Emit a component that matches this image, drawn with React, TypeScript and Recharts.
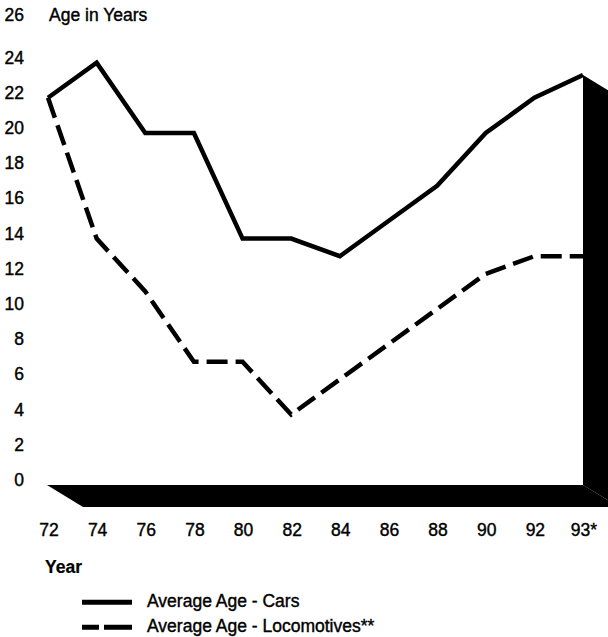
import React from 'react';
import { LineChart, Line, XAxis, YAxis, ReferenceArea, Legend, Customized } from 'recharts';

const years = ['72', '74', '76', '78', '80', '82', '84', '86', '88', '90', '92', '93*'];
const carsAge = [22, 24, 20, 20, 14, 14, 13, 15, 17, 20, 22, 23.3];
const locoAge = [22, 14, 11, 7, 7, 4, 6, 8, 10, 12, 13, 13];
const yTicks = [0, 2, 4, 6, 8, 10, 12, 14, 16, 18, 20, 22, 24, 26];
const seriesNames = { cars: 'Average Age - Cars', loco: 'Average Age - Locomotives**' };
const yTitle = 'Age in Years';
const xTitle = 'Year';

const data = years.map((year, i) => ({ year, cars: carsAge[i], loco: locoAge[i] }));

const FONT = '"Liberation Sans", Arial, Helvetica, sans-serif';
const FS = 17.5;
const TEXT_STROKE = 0.4;
const DEPTH_X = 36;
const DEPTH_Y = 22;
const LINE_DASH = '21 8';
const LEGEND_DASH: Record<string, string | undefined> = { cars: undefined, loco: '17 5 40' };

const textStyle = {
  fontSize: FS,
  fontFamily: FONT,
  fill: '#000',
  stroke: '#000',
  strokeWidth: TEXT_STROKE,
};

const FloorAndWall = (props: any) => {
  const { x, y, width, height } = props;
  if (x == null || y == null) return null;
  const bx = x + width;
  const by = y + height;
  const lx = x - 1;
  return (
    <g>
      <polygon
        points={`${lx},${by} ${bx},${by} ${bx + DEPTH_X},${by + DEPTH_Y} ${lx + DEPTH_X},${by + DEPTH_Y}`}
        fill="#000"
      />
      <polygon
        points={`${bx},${y} ${bx + DEPTH_X},${y + DEPTH_Y} ${bx + DEPTH_X},${by + DEPTH_Y} ${bx},${by}`}
        fill="#000"
      />
    </g>
  );
};

const YTick = (props: any) => {
  const { y, payload } = props;
  const isTop = payload.value === yTicks[yTicks.length - 1];
  return (
    <text x={24} y={isTop ? y - 6.5 : y + 1} textAnchor="end" style={textStyle}>
      {payload.value}
    </text>
  );
};

const XTick = (props: any) => {
  const { x, payload } = props;
  return (
    <text x={x + 1} y={536} textAnchor="middle" style={textStyle}>
      {payload.value}
    </text>
  );
};

const Titles = () => (
  <g>
    <text x={49} y={21} style={textStyle}>{yTitle}</text>
    <text x={45} y={572.5} fontWeight="bold" style={{ ...textStyle, strokeWidth: 0.2 }}>{xTitle}</text>
  </g>
);

const renderLegend = (props: any) => {
  const payload = props.payload || [];
  return (
    <svg width={420} height={60} style={{ display: 'block' }}>
      {payload.map((entry: any, i: number) => {
        const cy = 22.3 + i * 25;
        const key = entry.dataKey as string;
        return (
          <g key={key}>
            <line x1={82} x2={132} y1={cy} y2={cy} stroke="#000" strokeWidth={5} strokeDasharray={LEGEND_DASH[key]} />
            <text x={147} y={cy + 4.7} style={textStyle}>{entry.value}</text>
          </g>
        );
      })}
    </svg>
  );
};

export default function App() {
  return (
    <div style={{ position: 'absolute', left: 0, top: 0, width: 608, height: 637, background: '#fff' }}>
      <LineChart width={608} height={637} data={data} margin={{ top: 27.4, right: 25, bottom: 92, left: 0 }}>
        <XAxis
          dataKey="year"
          type="category"
          scale="point"
          padding={{ left: 0, right: 0 }}
          axisLine={false}
          tickLine={false}
          height={60}
          interval={0}
          tick={<XTick />}
        />
        <YAxis
          type="number"
          domain={[0, 26]}
          ticks={yTicks}
          interval={0}
          width={48}
          axisLine={false}
          tickLine={false}
          tick={<YTick />}
        />
        <ReferenceArea
          x1={years[0]}
          x2={years[years.length - 1]}
          y1={0}
          y2={carsAge[carsAge.length - 1]}
          ifOverflow="visible"
          shape={<FloorAndWall />}
        />
        <Line
          type="linear"
          dataKey="cars"
          name={seriesNames.cars}
          stroke="#000"
          strokeWidth={4.5}
          strokeLinejoin="miter"
          dot={false}
          activeDot={false}
          isAnimationActive={false}
        />
        <Line
          type="linear"
          dataKey="loco"
          name={seriesNames.loco}
          stroke="#000"
          strokeWidth={4.5}
          strokeDasharray={LINE_DASH}
          strokeLinejoin="miter"
          dot={false}
          activeDot={false}
          isAnimationActive={false}
        />
        <Legend
          layout="vertical"
          align="center"
          verticalAlign="middle"
          content={renderLegend}
          wrapperStyle={{ left: 0, top: 580, width: 420, height: 60 }}
        />
        <Customized component={<Titles />} />
      </LineChart>
    </div>
  );
}
